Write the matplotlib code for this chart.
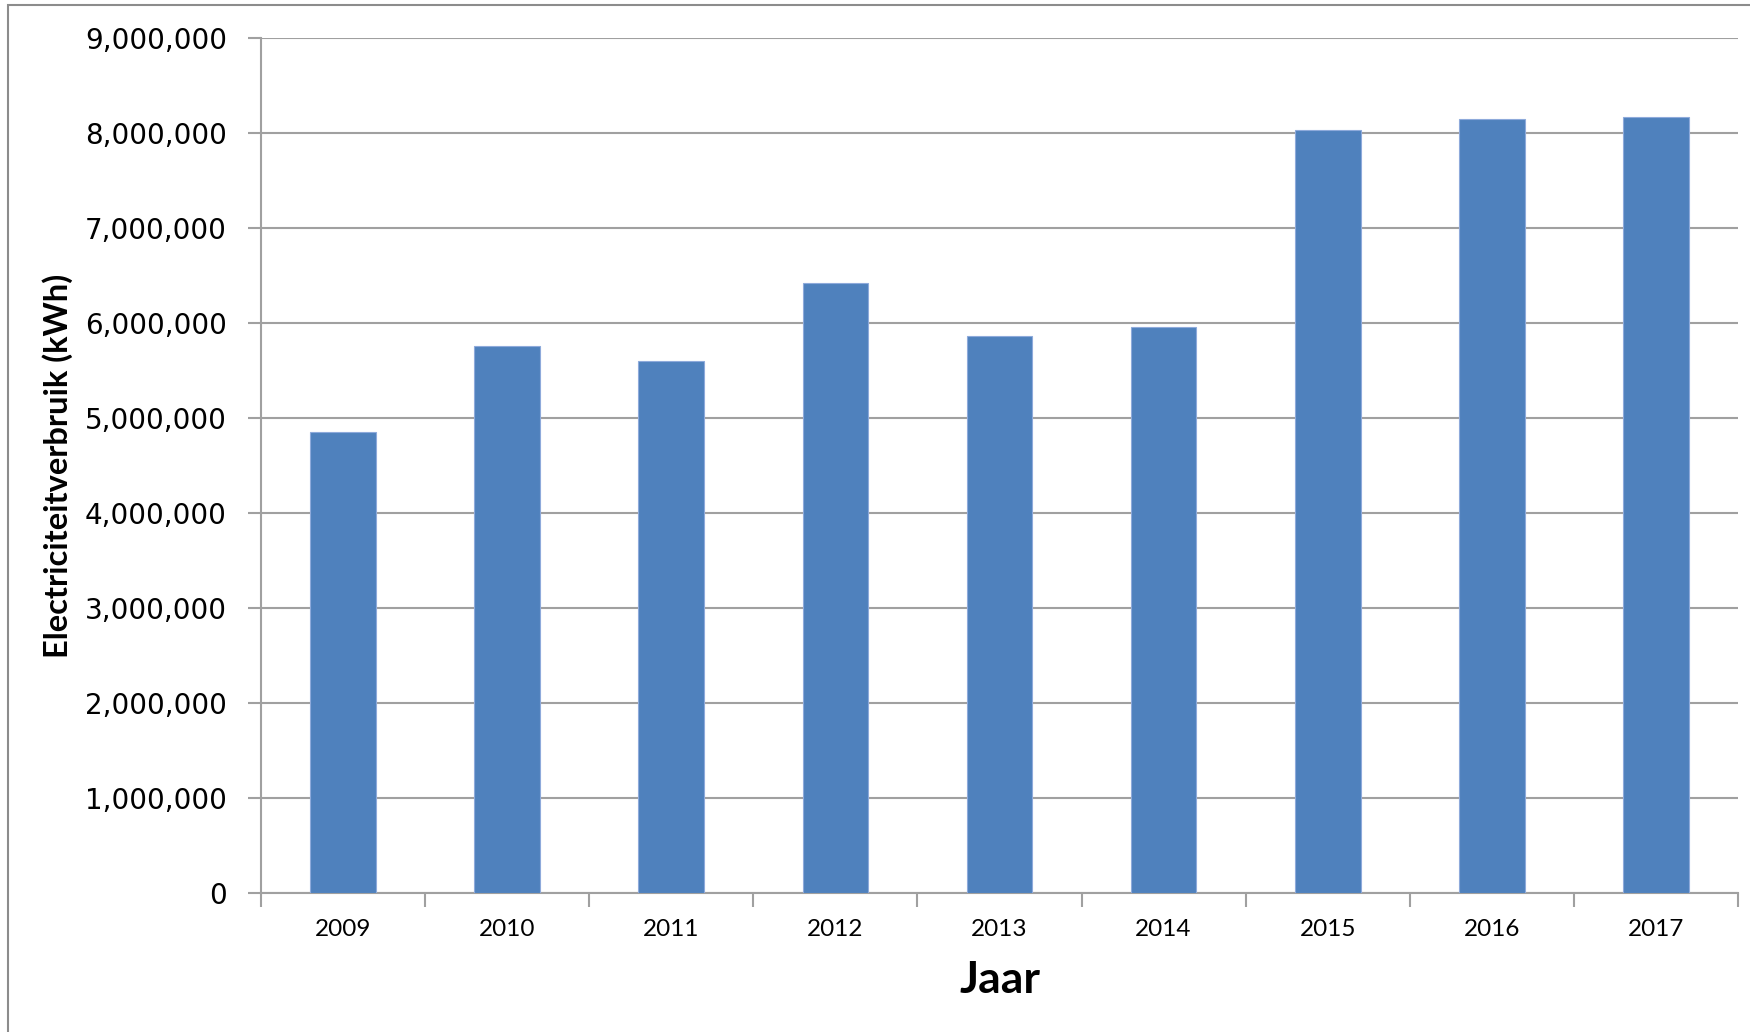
import matplotlib
matplotlib.use("Agg")
import matplotlib.pyplot as plt
from matplotlib.ticker import FuncFormatter, MultipleLocator, FixedLocator
from matplotlib.patches import Rectangle

years = ["2009", "2010", "2011", "2012", "2013", "2014", "2015", "2016", "2017"]
values = [4850000, 5750000, 5600000, 6420000, 5860000, 5950000, 8030000, 8140000, 8170000]
y_label = "Electriciteitverbruik (kWh)"
x_label = "Jaar"

fig = plt.figure(figsize=(17.5, 10.32), dpi=100)
fig.patch.set_facecolor("white")
ax = fig.add_axes([261/1750, 1 - 892.7/1032, (1738-261)/1750, (892.7-37.7)/1032])

x = list(range(len(years)))
ax.bar(x, values, width=0.40, color="#4F81BD", edgecolor="#8EAADB", linewidth=0.8, zorder=3)

ax.set_xlim(-0.5, len(years) - 0.5)
ax.set_ylim(0, 9000000)
ax.yaxis.set_major_locator(MultipleLocator(1000000))
ax.yaxis.set_major_formatter(FuncFormatter(lambda v, p: f"{int(v):,}"))
ax.grid(axis="y", color="#a0a0a0", linewidth=1.5, zorder=0)
ax.set_axisbelow(True)

ax.set_xticks(x)
ax.set_xticklabels(years, fontfamily="Lato", fontsize=17.5)
ax.xaxis.set_minor_locator(FixedLocator([i - 0.5 for i in range(len(years) + 1)]))
ax.tick_params(axis="x", which="major", length=0, pad=19)
ax.tick_params(axis="x", which="minor", length=10, width=1.5, color="#a0a0a0", direction="out")
ax.tick_params(axis="y", length=9.5, width=1.5, color="#a0a0a0", pad=15, labelsize=20)
for lbl in ax.get_yticklabels():
    lbl.set_fontfamily("DejaVu Sans")

for s in ["top", "right"]:
    ax.spines[s].set_visible(False)
for s in ["left", "bottom"]:
    ax.spines[s].set_color("#a0a0a0")
    ax.spines[s].set_linewidth(1.5)

fig.text(1000/1750, 1 - 993/1032, x_label, fontfamily="Lato", fontweight="bold",
         fontsize=32, ha="center", va="baseline")
fig.text(58/1750, 1 - 466/1032, y_label, fontfamily="Lato", fontweight="bold",
         fontsize=23.5, ha="center", va="center", rotation=90)

fig.add_artist(Rectangle((8/1750, -0.1), 1.2, 1 - 5/1032 + 0.1, transform=fig.transFigure,
                         fill=False, edgecolor="#8c8c8c", linewidth=1.5))

fig.savefig("out.png", dpi=100)
